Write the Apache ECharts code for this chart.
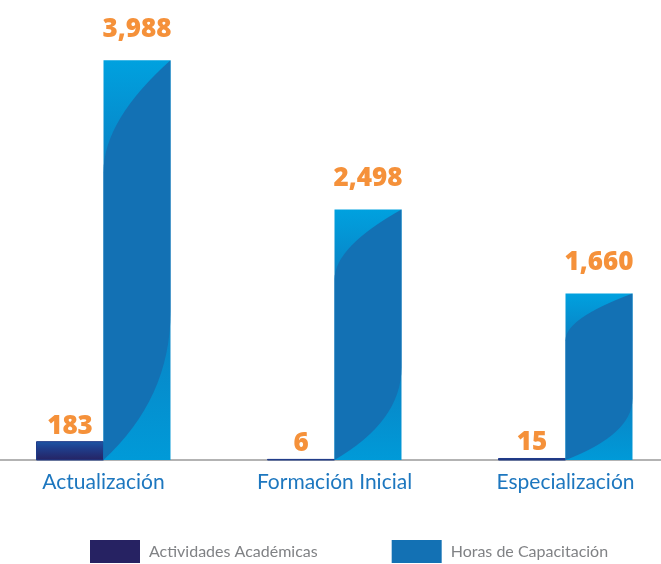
<!DOCTYPE html>
<html>
<head>
<meta charset="utf-8">
<script src="https://cdn.jsdelivr.net/npm/echarts@6/dist/echarts.min.js"></script>
<style>
html,body{margin:0;padding:0;background:#fff;}
#chart{width:661px;height:564px;}
</style>
</head>
<body>
<div id="chart"></div>
<script>
var categories = ['Actualización', 'Formación Inicial', 'Especialización'];
var seriesNames = ['Actividades Académicas', 'Horas de Capacitación'];
var actividades = [183, 6, 15];
var horas = [3988, 2498, 1660];

var chart = echarts.init(document.getElementById('chart'));

function fmt(v) { return v.toLocaleString('en-US'); }

var labelFont = '800 26px "Open Sans", sans-serif';
var orange = '#F5913A';

function renderDark(params, api) {
  var cat = api.value(0), val = api.value(1);
  var base = api.coord([cat, 0]);
  var top = api.coord([cat, val]);
  var band = api.size([1, 0])[0];
  var bw = band * 0.29;
  var x = base[0] - bw;
  var h = base[1] - top[1];
  return {
    type: 'rect',
    shape: { x: x, y: top[1], width: bw, height: h },
    style: {
      fill: new echarts.graphic.LinearGradient(0, 0, 0, 1, [
        { offset: 0, color: '#1d56a6' },
        { offset: 0.35, color: '#1f3f8d' },
        { offset: 1, color: '#262262' }
      ]),
      stroke: '#1f3a88',
      lineWidth: 1
    },
    textContent: {
      style: { text: fmt(val), fill: orange, font: labelFont }
    },
    textConfig: { position: 'top', distance: 2 }
  };
}

function renderBlue(params, api) {
  var cat = api.value(0), val = api.value(1);
  var base = api.coord([cat, 0]);
  var top = api.coord([cat, val]);
  var band = api.size([1, 0])[0];
  var bw = band * 0.29;
  var x = base[0];
  var y = top[1];
  var h = base[1] - top[1];
  function P(nx, ny) { return [x + nx * bw, y + ny * h]; }
  var p0 = P(1, 0), c1 = P(0, 0.15), p1 = P(0, 0.28), p2 = P(0, 1),
      c2 = P(1, 0.845), p3 = P(1, 0.63);
  var path = 'M' + p0[0] + ' ' + p0[1] +
    ' Q' + c1[0] + ' ' + c1[1] + ' ' + p1[0] + ' ' + p1[1] +
    ' L' + p2[0] + ' ' + p2[1] +
    ' Q' + c2[0] + ' ' + c2[1] + ' ' + p3[0] + ' ' + p3[1] + ' Z';
  return {
    type: 'group',
    children: [
      {
        type: 'rect',
        shape: { x: x, y: y, width: bw, height: h },
        style: {
          fill: new echarts.graphic.LinearGradient(0, 0, 0, 1, [
            { offset: 0, color: '#00a1df' },
            { offset: 0.3, color: '#0a7ec1' },
            { offset: 0.6, color: '#0b80c2' },
            { offset: 1, color: '#009ad8' }
          ])
        },
        textContent: {
          style: { text: fmt(val), fill: orange, font: labelFont }
        },
        textConfig: { position: 'top', distance: 18 }
      },
      {
        type: 'path',
        shape: { pathData: path },
        style: { fill: '#1371b4' }
      }
    ]
  };
}

chart.setOption({
  animation: false,
  backgroundColor: '#ffffff',
  grid: { left: -12, right: -20, top: 59, bottom: 104, containLabel: false, outerBoundsMode: 'none' },
  legend: {
    data: seriesNames,
    left: 90,
    top: 540,
    padding: 0,
    icon: 'rect',
    itemWidth: 50,
    itemHeight: 23,
    itemGap: 74,
    textStyle: { color: '#808285', fontSize: 16, fontFamily: 'Lato, sans-serif', padding: [0, 0, 0, 4] }
  },
  xAxis: {
    type: 'category',
    data: categories,
    axisLine: { show: true, lineStyle: { color: '#b3b3b3', width: 2 } },
    axisTick: { show: false },
    axisLabel: { color: '#1d77bf', fontSize: 21, fontFamily: 'Lato, sans-serif', margin: 12 },
    splitLine: { show: false }
  },
  yAxis: {
    type: 'value',
    min: 0,
    max: 4000,
    show: false
  },
  series: [
    {
      name: seriesNames[0],
      type: 'custom',
      itemStyle: { color: '#262262' },
      renderItem: renderDark,
      encode: { x: 0, y: 1 },
      data: actividades.map(function (v, i) { return [i, v]; }),
      z: 3
    },
    {
      name: seriesNames[1],
      type: 'custom',
      itemStyle: { color: '#1371b4' },
      renderItem: renderBlue,
      encode: { x: 0, y: 1 },
      data: horas.map(function (v, i) { return [i, v]; }),
      z: 3
    }
  ]
});
</script>
</body>
</html>
